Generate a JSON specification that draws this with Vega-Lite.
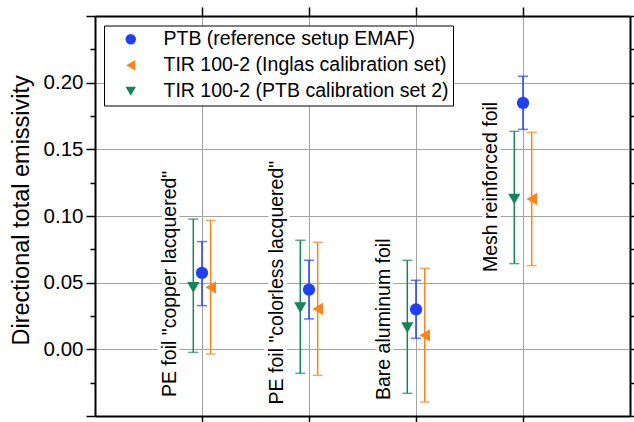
{
  "$schema": "https://vega.github.io/schema/vega-lite/v6.json",
  "width": 535,
  "height": 400,
  "autosize": {"type": "none"},
  "padding": {"left": 95, "top": 16, "right": 4, "bottom": 6},
  "background": "white",
  "datasets": {
    "points": [
      {"sample": "PE foil \"copper lacquered\"", "series": "PTB (reference setup EMAF)", "value": 0.0573, "lower": 0.0328, "upper": 0.0808},
      {"sample": "PE foil \"copper lacquered\"", "series": "TIR 100-2 (Inglas calibration set)", "value": 0.0465, "lower": -0.0035, "upper": 0.0968},
      {"sample": "PE foil \"copper lacquered\"", "series": "TIR 100-2 (PTB calibration set 2)", "value": 0.0465, "lower": -0.0023, "upper": 0.0977},
      {"sample": "PE foil \"colorless lacquered\"", "series": "PTB (reference setup EMAF)", "value": 0.0448, "lower": 0.0228, "upper": 0.0668},
      {"sample": "PE foil \"colorless lacquered\"", "series": "TIR 100-2 (Inglas calibration set)", "value": 0.0303, "lower": -0.0195, "upper": 0.0803},
      {"sample": "PE foil \"colorless lacquered\"", "series": "TIR 100-2 (PTB calibration set 2)", "value": 0.0313, "lower": -0.018, "upper": 0.0818},
      {"sample": "Bare aluminum foil", "series": "PTB (reference setup EMAF)", "value": 0.030, "lower": 0.0083, "upper": 0.0518},
      {"sample": "Bare aluminum foil", "series": "TIR 100-2 (Inglas calibration set)", "value": 0.0105, "lower": -0.0395, "upper": 0.0608},
      {"sample": "Bare aluminum foil", "series": "TIR 100-2 (PTB calibration set 2)", "value": 0.0163, "lower": -0.033, "upper": 0.0668},
      {"sample": "Mesh reinforced foil", "series": "PTB (reference setup EMAF)", "value": 0.1848, "lower": 0.165, "upper": 0.2048},
      {"sample": "Mesh reinforced foil", "series": "TIR 100-2 (Inglas calibration set)", "value": 0.1128, "lower": 0.0628, "upper": 0.1628},
      {"sample": "Mesh reinforced foil", "series": "TIR 100-2 (PTB calibration set 2)", "value": 0.1128, "lower": 0.0643, "upper": 0.1635}
    ],
    "labels": [
      {"sample": "PE foil \"copper lacquered\"", "labelY": -0.0358},
      {"sample": "PE foil \"colorless lacquered\"", "labelY": -0.0413},
      {"sample": "Bare aluminum foil", "labelY": -0.038},
      {"sample": "Mesh reinforced foil", "labelY": 0.058}
    ]
  },
  "layer": [
    {
      "data": {"name": "labels"},
      "mark": {"type": "text", "angle": 270, "align": "left", "baseline": "alphabetic", "dy": -26, "fontSize": 19.5, "font": "Liberation Sans", "fill": "white", "stroke": "white", "strokeWidth": 7, "strokeJoin": "round"},
      "encoding": {
        "x": {"field": "sample", "type": "nominal",
          "scale": {"type": "band", "domain": ["PE foil \"copper lacquered\"", "PE foil \"colorless lacquered\"", "Bare aluminum foil", "Mesh reinforced foil"], "paddingInner": 0, "paddingOuter": 0.5},
          "axis": {"orient": "top", "labels": false, "ticks": false, "domain": false, "grid": true, "title": null, "zindex": 0, "bandPosition": 0.5}},
        "y": {"field": "labelY", "type": "quantitative",
          "scale": {"domain": [-0.05, 0.25], "nice": false, "zero": false},
          "axis": {"orient": "right", "values": [0, 0.05, 0.1, 0.15, 0.2], "labels": false, "ticks": false, "domain": false, "grid": true, "title": null, "zindex": 0}},
        "text": {"field": "sample"}
      }
    },
    {
      "data": {"name": "labels"},
      "mark": {"type": "text", "angle": 270, "align": "left", "baseline": "alphabetic", "dy": -26, "fontSize": 19.5, "font": "Liberation Sans", "fill": "black"},
      "encoding": {
        "x": {"field": "sample", "type": "nominal", "axis": null},
        "y": {"field": "labelY", "type": "quantitative", "axis": null},
        "text": {"field": "sample"}
      }
    },
    {
      "data": {"name": "points"},
      "mark": {"type": "rule", "strokeWidth": 1.5},
      "encoding": {
        "x": {"field": "sample", "type": "nominal",
          "axis": {"orient": "bottom", "labels": false, "ticks": true, "tickSize": 9, "domain": true, "grid": false, "title": null, "zindex": 1, "bandPosition": 0.5}},
        "xOffset": {"field": "series", "type": "nominal",
          "scale": {"type": "band", "domain": ["TIR 100-2 (PTB calibration set 2)", "PTB (reference setup EMAF)", "TIR 100-2 (Inglas calibration set)"], "range": [40.45, 66.55], "paddingInner": 0, "paddingOuter": 0}},
        "y": {"field": "lower", "type": "quantitative",
          "axis": {"orient": "left", "values": [-0.05, 0, 0.05, 0.1, 0.15, 0.2, 0.25], "labelExpr": "datum.value < -0.01 || datum.value > 0.24 ? '' : format(datum.value, '.2f')", "tickSize": 9, "labelPadding": 3, "labelFontSize": 20.5, "grid": false, "domain": true, "zindex": 1,
            "title": "Directional total emissivity", "titleFontSize": 23.5, "titleAngle": 270, "titleAlign": "left", "titleBaseline": "alphabetic", "titleX": -67, "titleY": 329}},
        "y2": {"field": "upper"},
        "stroke": {"field": "series", "type": "nominal", "legend": null,
          "scale": {"domain": ["TIR 100-2 (PTB calibration set 2)", "PTB (reference setup EMAF)", "TIR 100-2 (Inglas calibration set)"], "range": ["#138659", "#1f3fff", "#ff8418"]}}
      }
    },
    {
      "data": {"name": "points"},
      "mark": {"type": "tick", "orient": "horizontal", "size": 10, "thickness": 1.5},
      "encoding": {
        "x": {"field": "sample", "type": "nominal",
          "axis": {"orient": "top", "labels": false, "ticks": true, "tickSize": 9, "domain": true, "grid": false, "title": null, "zindex": 1, "bandPosition": 0.5}},
        "xOffset": {"field": "series", "type": "nominal"},
        "y": {"field": "upper", "type": "quantitative",
          "axis": {"orient": "right", "values": [-0.05, 0, 0.05, 0.1, 0.15, 0.2, 0.25], "labels": false, "tickSize": 9, "grid": false, "domain": true, "title": null, "zindex": 1}},
        "fill": {"field": "series", "type": "nominal", "legend": null,
          "scale": {"domain": ["TIR 100-2 (PTB calibration set 2)", "TIR 100-2 (Inglas calibration set)", "PTB (reference setup EMAF)"], "range": ["#138659", "#ff8418", "#1f3fff"]}}
      }
    },
    {
      "data": {"name": "points"},
      "mark": {"type": "tick", "orient": "horizontal", "size": 10, "thickness": 1.5},
      "encoding": {
        "x": {"field": "sample", "type": "nominal", "axis": null},
        "xOffset": {"field": "series", "type": "nominal"},
        "y": {"field": "lower", "type": "quantitative",
          "axis": {"orient": "left", "values": [-0.025, 0.025, 0.075, 0.125, 0.175, 0.225], "labels": false, "tickSize": 5, "grid": false, "domain": false, "title": null, "zindex": 1}},
        "fill": {"field": "series", "type": "nominal", "legend": null}
      }
    },
    {
      "data": {"name": "points"},
      "mark": {"type": "point", "filled": true, "opacity": 1},
      "encoding": {
        "x": {"field": "sample", "type": "nominal", "axis": null},
        "xOffset": {"field": "series", "type": "nominal"},
        "y": {"field": "value", "type": "quantitative",
          "axis": {"orient": "right", "values": [-0.025, 0.025, 0.075, 0.125, 0.175, 0.225], "labels": false, "tickSize": 5, "grid": false, "domain": false, "title": null, "zindex": 1}},
        "color": {"field": "series", "type": "nominal", "title": null,
          "scale": {"domain": ["PTB (reference setup EMAF)", "TIR 100-2 (Inglas calibration set)", "TIR 100-2 (PTB calibration set 2)"], "range": ["#1f3fff", "#ff8418", "#138659"]}},
        "shape": {"field": "series", "type": "nominal", "title": null,
          "scale": {"domain": ["PTB (reference setup EMAF)", "TIR 100-2 (Inglas calibration set)", "TIR 100-2 (PTB calibration set 2)"], "range": ["circle", "triangle-left", "triangle-down"]}},
        "size": {"field": "series", "type": "nominal", "legend": null,
          "scale": {"domain": ["TIR 100-2 (Inglas calibration set)", "TIR 100-2 (PTB calibration set 2)", "PTB (reference setup EMAF)"], "range": [150, 150, 110]}}
      }
    }
  ],
  "config": {
    "view": {"stroke": null},
    "font": "Liberation Sans",
    "axis": {"domainColor": "black", "domainWidth": 2, "tickColor": "black", "tickWidth": 1.5, "gridColor": "#a3a3a3", "gridWidth": 1, "labelColor": "black", "titleColor": "black", "labelFont": "Liberation Sans", "titleFont": "Liberation Sans", "titleFontWeight": "normal"},
    "legend": {"orient": "none", "legendX": 9, "legendY": 9.5, "padding": 4, "symbolOffset": 13, "labelOffset": 23, "rowPadding": 5, "strokeColor": "black", "fillColor": "white", "labelFontSize": 19.5, "labelFont": "Liberation Sans", "labelColor": "black", "labelLimit": 500, "symbolSize": 110, "symbolStrokeWidth": 0}
  }
}
